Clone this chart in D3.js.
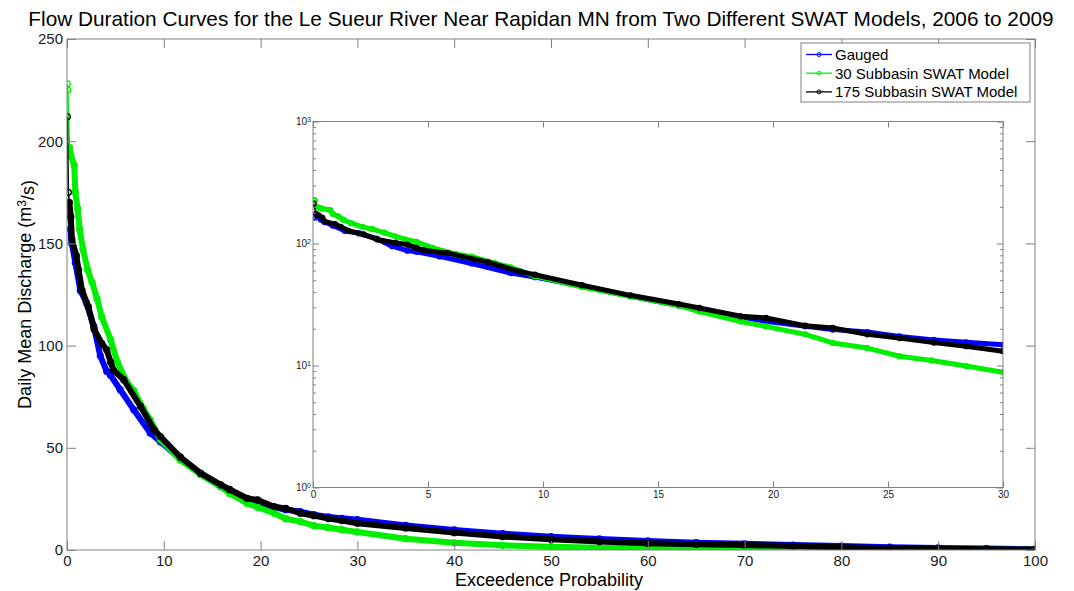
<!DOCTYPE html>
<html lang="en">
<head>
    <meta charset="UTF-8">
    <title>Flow Duration Curves</title>
    <script src="https://d3js.org/d3.v7.min.js"></script>
    <style>
        body { margin: 0; background: #fff; }
        svg text { font-family: Arial, 'Liberation Sans', Helvetica, sans-serif; fill: #1a1a1a; }
        .frame { fill: none; stroke: #808080; stroke-width: 1; }
        .axis .domain { display: none; }
        .axis line { stroke: #808080; }
    </style>
</head>
<body>
<script>
    // exceedance probability (%) and daily mean discharge (m3/s)
    const pGauged = [0.03, 0.1, 0.34, 0.5, 0.86, 1.38, 2.0, 2.76, 3.44, 4.1, 4.5, 5.5, 6.9, 8.6, 9.65, 11.7, 13.8, 15.9, 16.8, 18.6, 19.7, 21.4, 22.6, 24.1, 25.5, 27, 28.4, 30, 35, 40, 45, 50, 55, 60, 65, 70, 75, 80, 85, 90, 95, 100];
    const qGauged = [165, 163, 157, 150, 140.5, 127, 121, 109.5, 95, 87.4, 85.5, 78.4, 68.6, 57.2, 53, 44.5, 37, 31, 28.7, 25, 23, 21, 19.7, 18.8, 17.3, 16.2, 15.5, 14.8, 12, 9.8, 8, 6.5, 5.4, 4.4, 3.6, 3.0, 2.4, 1.9, 1.4, 1.0, 0.7, 0.4];

    const p30 = [0.03, 0.08, 0.25, 0.4, 0.75, 0.86, 1.1, 1.3, 1.65, 2.14, 2.59, 3.1, 3.6, 4.5, 5.2, 6.2, 6.9, 7.9, 8.6, 9.65, 11.7, 13.8, 15.9, 16.8, 18.6, 19.7, 21.4, 22.6, 24.1, 25.5, 26.9, 28.4, 30, 35, 40, 45, 50, 55, 60, 65, 70, 80, 90, 100];
    const q30 = [228, 225, 197, 193, 188, 175, 167, 157, 147, 137, 131, 123, 114, 103, 92, 82, 78, 69, 63.7, 54, 44, 37, 31, 27.7, 22.9, 20.9, 18, 15.3, 13.9, 11.9, 11.0, 9.9, 8.8, 5.5, 3.5, 2.3, 1.6, 1.1, 0.8, 0.6, 0.4, 0.3, 0.2, 0.1];

    const p175 = [0.03, 0.14, 0.24, 0.4, 0.5, 0.96, 1.2, 1.55, 2.2, 2.8, 3.6, 4.1, 4.5, 4.8, 5.86, 7.6, 9.0, 9.65, 11.7, 13.8, 15.9, 16.8, 18.6, 19.7, 21.4, 22.6, 24.1, 25.5, 27, 28.4, 30, 35, 40, 45, 50, 55, 60, 65, 70, 75, 80, 85, 90, 95, 100];
    const q175 = [212, 175, 170, 163, 152, 144, 137, 127, 119, 108, 101, 98, 92, 88, 83.3, 70.2, 58.8, 55.5, 45.5, 37.6, 31.9, 29.6, 25.3, 24.5, 21.2, 20.3, 18, 16.8, 15.4, 14.4, 13.1, 10.8, 8.5, 6.6, 5.2, 4.1, 3.3, 2.8, 2.5, 1.9, 1.3, 0.9, 0.6, 0.4, 0.2];

    const seriesNames = ["Gauged", "30 Subbasin SWAT Model", "175 Subbasin SWAT Model"];
    const seriesColors = ["#0000ff", "#00ee00", "#000000"];
    const seriesP = [pGauged, p30, p175];
    const seriesQ = [qGauged, q30, q175];

    const mainXTicks = [0, 10, 20, 30, 40, 50, 60, 70, 80, 90, 100];
    const mainYTicks = [0, 50, 100, 150, 200, 250];
    const insetXTicks = [0, 5, 10, 15, 20, 25, 30];
    const insetYTicks = [1, 10, 100, 1000];

    const series = seriesNames.map((name, i) => ({
        name: name,
        color: seriesColors[i],
        values: seriesP[i].map((p, j) => ({p: p, q: seriesQ[i][j]}))
    }));

    const W = 1074, H = 591;
    const svg = d3.select("body").append("svg")
        .attr("width", W)
        .attr("height", H);

    // main axes
    const main = {left: 67, right: 1035, top: 39, bottom: 550};
    const x = d3.scaleLinear().domain([0, 100]).range([main.left, main.right]);
    const y = d3.scaleLinear().domain([0, 250]).range([main.bottom, main.top]);

    svg.append("clipPath").attr("id", "clipMain")
        .append("rect")
        .attr("x", main.left).attr("y", main.top)
        .attr("width", main.right - main.left).attr("height", main.bottom - main.top);

    // thin line + open markers everywhere, a heavy band where the daily markers pile up
    function drawSeries(g, xs, ys, bandW, r, bandFrom) {
        const line = d3.line()
            .x(d => xs(d.p))
            .y(d => ys(d.q));
        series.forEach(s => {
            g.append("path")
                .datum(s.values)
                .attr("fill", "none")
                .attr("stroke", s.color)
                .attr("stroke-width", 1.6)
                .attr("stroke-linejoin", "round")
                .attr("d", line);
            g.append("path")
                .datum(s.values.filter(d => d.p >= bandFrom))
                .attr("fill", "none")
                .attr("stroke", s.color)
                .attr("stroke-width", bandW)
                .attr("stroke-linejoin", "round")
                .attr("stroke-linecap", "round")
                .attr("d", line);
            g.selectAll(null)
                .data(s.values)
                .enter().append("circle")
                .attr("cx", d => xs(d.p))
                .attr("cy", d => ys(d.q))
                .attr("r", r)
                .attr("fill", "none")
                .attr("stroke", s.color)
                .attr("stroke-width", 1.3);
        });
    }

    const mainData = svg.append("g").attr("clip-path", "url(#clipMain)");
    drawSeries(mainData, x, y, 6, 3, 0.2);

    svg.append("g")
        .attr("class", "axis")
        .attr("transform", `translate(0,${main.bottom})`)
        .call(d3.axisBottom(x).tickValues(mainXTicks).tickSizeInner(-9).tickSizeOuter(0).tickPadding(5))
        .selectAll("text").style("font-size", "15px");
    svg.append("g")
        .attr("class", "axis")
        .attr("transform", `translate(0,${main.top})`)
        .call(d3.axisTop(x).tickValues(mainXTicks).tickSizeInner(-9).tickSizeOuter(0).tickFormat(""));
    svg.append("g")
        .attr("class", "axis")
        .attr("transform", `translate(${main.left},0)`)
        .call(d3.axisLeft(y).tickValues(mainYTicks).tickSizeInner(-9).tickSizeOuter(0).tickPadding(4))
        .selectAll("text").style("font-size", "15px");
    svg.append("g")
        .attr("class", "axis")
        .attr("transform", `translate(${main.right},0)`)
        .call(d3.axisRight(y).tickValues(mainYTicks).tickSizeInner(-9).tickSizeOuter(0).tickFormat(""));

    svg.append("rect")
        .attr("class", "frame")
        .attr("x", main.left).attr("y", main.top)
        .attr("width", main.right - main.left).attr("height", main.bottom - main.top);

    // inset (log scale)
    const ins = {left: 313, right: 1003, top: 121.5, bottom: 487.5};
    const xi = d3.scaleLinear().domain([0, 30]).range([ins.left, ins.right]);
    const yi = d3.scaleLog().domain([1, 1000]).range([ins.bottom, ins.top]);

    svg.append("rect")
        .attr("x", ins.left).attr("y", ins.top)
        .attr("width", ins.right - ins.left).attr("height", ins.bottom - ins.top)
        .attr("fill", "#fff");

    svg.append("clipPath").attr("id", "clipInset")
        .append("rect")
        .attr("x", ins.left).attr("y", ins.top)
        .attr("width", ins.right - ins.left).attr("height", ins.bottom - ins.top);

    const insetData = svg.append("g").attr("clip-path", "url(#clipInset)");
    drawSeries(insetData, xi, yi, 5, 2.5, 0.2);

    const minorTicks = [];
    [1, 10, 100].forEach(dec => {
        for (let k = 2; k <= 9; k++) minorTicks.push(dec * k);
    });

    svg.append("g")
        .attr("class", "axis")
        .attr("transform", `translate(0,${ins.bottom})`)
        .call(d3.axisBottom(xi).tickValues(insetXTicks).tickSizeInner(-6).tickSizeOuter(0).tickPadding(3))
        .selectAll("text").style("font-size", "10px");
    svg.append("g")
        .attr("class", "axis")
        .attr("transform", `translate(0,${ins.top})`)
        .call(d3.axisTop(xi).tickValues(insetXTicks).tickSizeInner(-6).tickSizeOuter(0).tickFormat(""));

    svg.append("g")
        .attr("class", "axis")
        .attr("transform", `translate(${ins.left},0)`)
        .call(d3.axisLeft(yi).tickValues(insetYTicks).tickSizeInner(-6).tickSizeOuter(0).tickPadding(2))
        .selectAll("text")
        .style("font-size", "10px")
        .each(function (d) {
            const t = d3.select(this);
            t.text("10");
            t.append("tspan")
                .attr("dy", "-0.5em")
                .style("font-size", "7px")
                .text(Math.round(Math.log10(d)));
        });
    svg.append("g")
        .attr("class", "axis")
        .attr("transform", `translate(${ins.left},0)`)
        .call(d3.axisLeft(yi).tickValues(minorTicks).tickSizeInner(-3).tickSizeOuter(0).tickFormat(""));
    svg.append("g")
        .attr("class", "axis")
        .attr("transform", `translate(${ins.right},0)`)
        .call(d3.axisRight(yi).tickValues(insetYTicks).tickSizeInner(-6).tickSizeOuter(0).tickFormat(""));
    svg.append("g")
        .attr("class", "axis")
        .attr("transform", `translate(${ins.right},0)`)
        .call(d3.axisRight(yi).tickValues(minorTicks).tickSizeInner(-3).tickSizeOuter(0).tickFormat(""));

    svg.append("rect")
        .attr("class", "frame")
        .attr("x", ins.left).attr("y", ins.top)
        .attr("width", ins.right - ins.left).attr("height", ins.bottom - ins.top);

    // title and axis labels
    svg.append("text")
        .attr("x", 541)
        .attr("y", 26)
        .attr("text-anchor", "middle")
        .style("font-size", "20.8px")
        .style("fill", "#000")
        .text("Flow Duration Curves for the Le Sueur River Near Rapidan MN from Two Different SWAT Models, 2006 to 2009");

    svg.append("text")
        .attr("x", 549)
        .attr("y", 586)
        .attr("text-anchor", "middle")
        .style("font-size", "18px")
        .style("fill", "#000")
        .text("Exceedence Probability");

    const yl = svg.append("text")
        .attr("transform", `translate(31,${(main.top + main.bottom) / 2}) rotate(-90)`)
        .attr("text-anchor", "middle")
        .style("font-size", "18px")
        .style("fill", "#000");
    yl.append("tspan").text("Daily Mean Discharge (m");
    yl.append("tspan").attr("dy", "-0.45em").style("font-size", "12px").text("3");
    yl.append("tspan").attr("dy", "0.45em").text("/s)");

    // legend
    const leg = svg.append("g").attr("transform", "translate(801,43)");
    leg.append("rect")
        .attr("width", 229).attr("height", 59)
        .attr("fill", "#fff")
        .attr("stroke", "#808080");
    series.forEach((s, i) => {
        const cy = 11.5 + i * 18.7;
        leg.append("line")
            .attr("x1", 5).attr("x2", 31)
            .attr("y1", cy).attr("y2", cy)
            .attr("stroke", s.color)
            .attr("stroke-width", 1.3);
        leg.append("circle")
            .attr("cx", 18).attr("cy", cy).attr("r", 2)
            .attr("fill", "none")
            .attr("stroke", s.color);
        leg.append("text")
            .attr("x", 34).attr("y", cy + 5.5)
            .style("font-size", "15px")
            .style("fill", "#000")
            .text(s.name);
    });
</script>
</body>
</html>
